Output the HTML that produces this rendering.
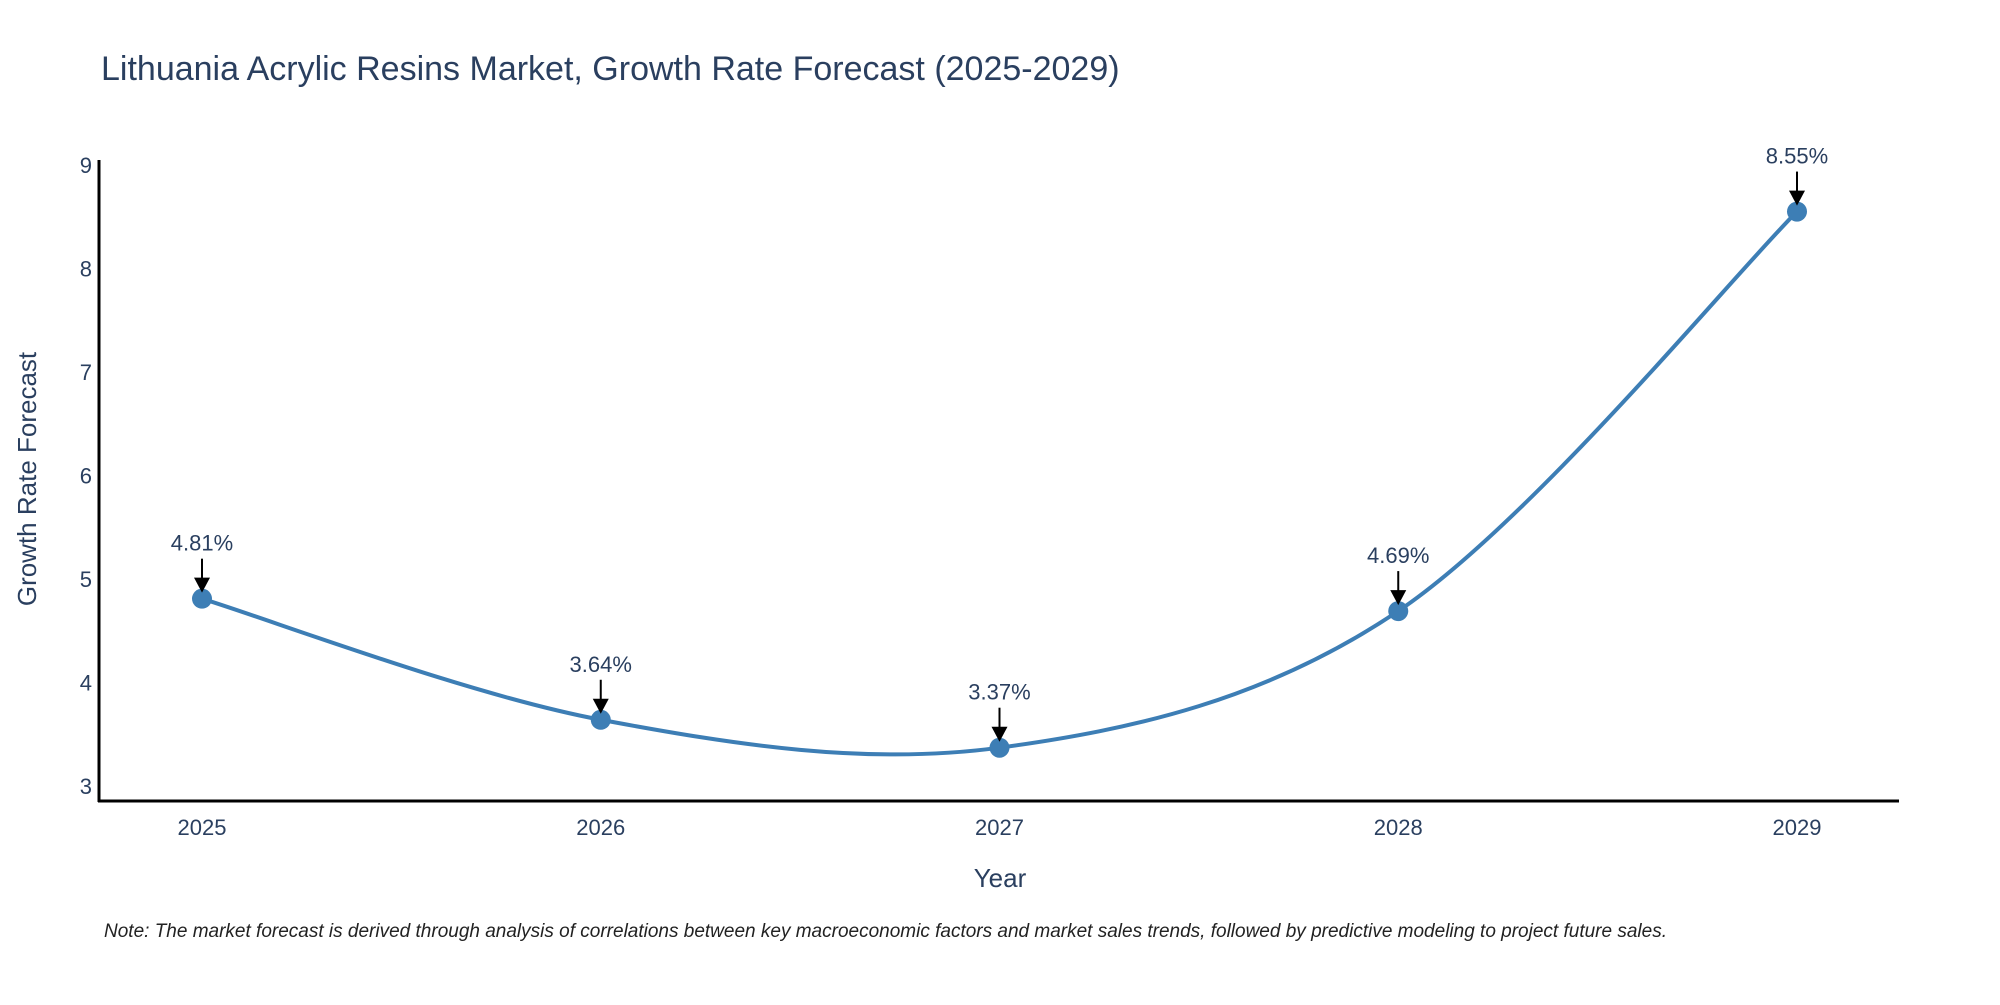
<!DOCTYPE html>
<html><head><meta charset="utf-8"><style>
body{margin:0;background:#fff;}
svg text{font-family:"Liberation Sans",sans-serif;}
</style></head><body>
<svg id="chart" width="2000" height="1000" xmlns="http://www.w3.org/2000/svg">
<rect width="2000" height="1000" fill="#fff"/>
<text x="101" y="80" font-size="34" fill="#2a3f5f">Lithuania Acrylic Resins Market, Growth Rate Forecast (2025-2029)</text>
<g id="yticks"></g><g id="xticks"></g>
<line x1="99" y1="160" x2="99" y2="802" stroke="#000" stroke-width="3"/>
<line x1="98" y1="801" x2="1899" y2="801" stroke="#000" stroke-width="3"/>
<text transform="translate(36,479) rotate(-90)" text-anchor="middle" font-size="26" fill="#2a3f5f">Growth Rate Forecast</text>
<text x="1000" y="887" text-anchor="middle" font-size="26" fill="#2a3f5f">Year</text>
<text x="104" y="937" font-size="19" font-style="italic" fill="#222">Note: The market forecast is derived through analysis of correlations between key macroeconomic factors and market sales trends, followed by predictive modeling to project future sales.</text>
<g id="series"></g>
</svg>
<script>
const categories=["2025","2026","2027","2028","2029"];
const values=[4.81,3.64,3.37,4.69,8.55];
const labels=["4.81%","3.64%","3.37%","4.69%","8.55%"];
const yTicks=[3,4,5,6,7,8,9];
const NS="http://www.w3.org/2000/svg";
const x=i=>202+i*398.75;
const y=v=>786-(v-3)*103.5;
function mk(tag,attrs,parent){const e=document.createElementNS(NS,tag);for(const k in attrs)e.setAttribute(k,attrs[k]);parent.appendChild(e);return e;}
const yt=document.getElementById('yticks'),xt=document.getElementById('xticks'),s=document.getElementById('series');
yTicks.forEach(t=>{const e=mk('text',{x:92,y:y(t)+8,'text-anchor':'end','font-size':22,fill:'#2a3f5f'},yt);e.textContent=t;

});
categories.forEach((c,i)=>{const e=mk('text',{x:x(i),y:835,'text-anchor':'middle','font-size':22,fill:'#2a3f5f'},xt);e.textContent=c;

});
const P=values.map((v,i)=>[x(i),y(v)]);
let d=`M${P[0][0]},${P[0][1]}`;
for(let i=0;i<P.length-1;i++){const p0=P[Math.max(0,i-1)],p1=P[i],p2=P[i+1],p3=P[Math.min(P.length-1,i+2)];
const c1=[p1[0]+(p2[0]-p0[0])/6,p1[1]+(p2[1]-p0[1])/6],c2=[p2[0]-(p3[0]-p1[0])/6,p2[1]-(p3[1]-p1[1])/6];
d+=` C${c1[0]},${c1[1]} ${c2[0]},${c2[1]} ${p2[0]},${p2[1]}`;}
const line=mk('path',{d:d,fill:'none',stroke:'#3d7eb5','stroke-width':4},s);


values.forEach((v,i)=>{const px=x(i),py=y(v);
const m=mk('circle',{cx:px,cy:py,r:10,fill:'#3d7eb5'},s);


const a=mk('line',{x1:px,y1:py-40,x2:px,y2:py-20,stroke:'#000','stroke-width':2},s);


const h=mk('path',{d:`M${px-8},${py-21} L${px+8},${py-21} L${px},${py-6} Z`,fill:'#000'},s);


const t=mk('text',{x:px,y:py-48,'text-anchor':'middle','font-size':22,fill:'#2a3f5f'},s);t.textContent=labels[i];

});
</script>
</body></html>
